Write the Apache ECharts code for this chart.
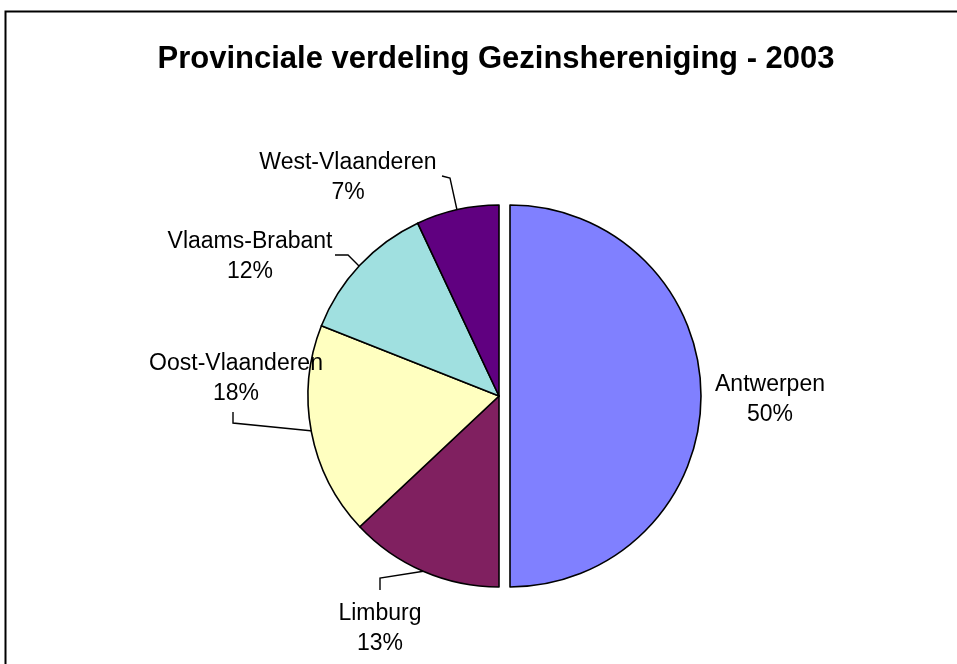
<!DOCTYPE html>
<html lang="nl">
<head>
    <meta charset="UTF-8">
    <title>Provinciale verdeling Gezinshereniging - 2003</title>
    <script src="https://cdn.jsdelivr.net/npm/echarts@6/dist/echarts.min.js"></script>
    <style>
        html, body { margin: 0; padding: 0; background: #fff; }
        #chart { width: 957px; height: 664px; }
    </style>
</head>
<body>
<div id="chart"></div>
<script type="text/javascript">
    // gegevens (aandelen in %)
    var provinces = ['Antwerpen', 'Limburg', 'Oost-Vlaanderen', 'Vlaams-Brabant', 'West-Vlaanderen'];
    var shares = [50, 13, 18, 12, 7];
    var colors = ['#8080FF', '#802060', '#FFFFC0', '#A0E0E0', '#600080'];

    // label placement (Excel-style manual positions) + leader lines
    // Antwerpen (uitgetrokken segment) keeps the default outside position
    var labelPos = [
        null,
        { x: 380, y: 629, line: [[380, 590], [380, 578], [425, 571]] },
        { x: 236, y: 379, line: [[233, 412], [233, 423], [313, 431]] },
        { x: 250, y: 257, line: [[335, 255], [348, 255], [359, 266]] },
        { x: 348, y: 178, line: [[442, 176], [450, 178], [457, 210]] }
    ];

    var chart = echarts.init(document.getElementById('chart'), null, { renderer: 'canvas' });

    var pieData = provinces.map(function (name, i) {
        var item = {
            name: name,
            value: shares[i],
            itemStyle: { color: colors[i] }
        };
        if (i === 0) {
            item.selected = true;
            item.labelLine = { show: false };
            item.label = { padding: [0, 0, 0, 38] };
        }
        return item;
    });

    var option = {
        backgroundColor: '#fff',
        animation: false,
        title: {
            text: 'Provinciale verdeling Gezinshereniging - 2003',
            left: 491,
            top: 39,
            textAlign: 'center',
            textStyle: {
                fontFamily: 'Liberation Sans, Arial, sans-serif',
                fontSize: 31,
                fontWeight: 'bold',
                color: '#000'
            }
        },
        graphic: [{
            // chart frame (right/bottom edges fall outside the picture)
            type: 'rect',
            shape: { x: 5.5, y: 11.5, width: 1000, height: 1000 },
            style: { fill: 'none', stroke: '#000', lineWidth: 2 },
            z: -1
        }],
        series: [{
            type: 'pie',
            center: [499, 396],
            radius: 191,
            startAngle: 90,
            clockwise: true,
            selectedMode: 'single',
            selectedOffset: 11,
            emphasis: { disabled: true },
            itemStyle: { borderColor: '#000', borderWidth: 1.6 },
            label: {
                show: true,
                formatter: function (p) { return p.name + '\n' + p.value + '%'; },
                fontFamily: 'Liberation Sans, Arial, sans-serif',
                fontSize: 23,
                lineHeight: 30,
                color: '#000',
                align: 'center'
            },
            labelLine: {
                show: true,
                lineStyle: { color: '#000', width: 1.4 }
            },
            labelLayout: function (params) {
                var p = labelPos[params.dataIndex];
                if (!p) return { align: 'center', verticalAlign: 'middle', dy: 4 };
                return {
                    x: p.x,
                    y: p.y,
                    align: 'center',
                    verticalAlign: 'middle',
                    labelLinePoints: p.line
                };
            },
            data: pieData
        }]
    };

    chart.setOption(option);
</script>
</body>
</html>
